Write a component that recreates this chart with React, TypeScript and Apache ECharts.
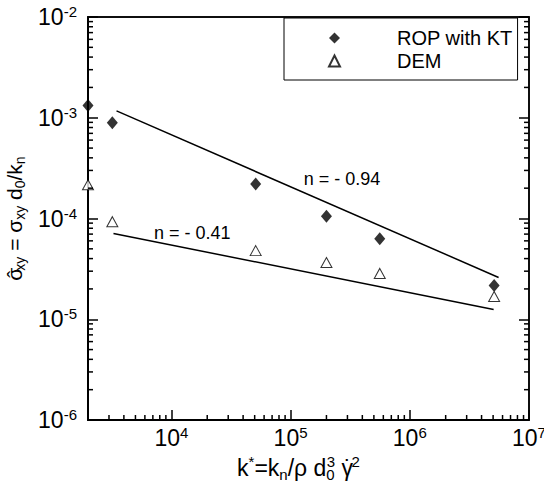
import React, { useEffect, useRef } from "react";
import * as echarts from "echarts";

// ---- data ----
const ropK = [2000, 3200, 51000, 200000, 560000, 5100000];
const ropSigma = [1.32e-3, 8.9e-4, 2.2e-4, 1.05e-4, 6.3e-5, 2.16e-5];
const demK = [2000, 3200, 51000, 200000, 560000, 5100000];
const demSigma = [2.16e-4, 9.3e-5, 4.8e-5, 3.66e-5, 2.85e-5, 1.68e-5];

const fitRopK = [3470, 5560000];
const fitRopSigma = [1.17e-3, 2.6e-5];
const fitDemK = [3270, 5050000];
const fitDemSigma = [7.1e-5, 1.25e-5];

const annotationText = ["n = - 0.94", "n = - 0.41"];
const annotationK = [270000, 15000];
const annotationSigma = [2.48e-4, 7.26e-5];

const xMin = 2000;
const xMax = 1e7;
const yMin = 1e-6;
const yMax = 1e-2;
const minorMantissas = [2, 3, 4, 5, 6, 7, 8, 9];
const xDecades = [1e3, 1e4, 1e5, 1e6];
const yDecades = [1e-6, 1e-5, 1e-4, 1e-3];

const FONT = "Liberation Sans, Arial, sans-serif";

const xMinor: number[] = [];
xDecades.forEach((d) => minorMantissas.forEach((m) => {
  const v = m * d;
  if (v > xMin * 1.0001 && v < xMax) xMinor.push(v);
}));
const yMinor: number[] = [];
yDecades.forEach((d) => minorMantissas.forEach((m) => yMinor.push(m * d)));

function powLabel(v: number) {
  const e = Math.round(Math.log10(v));
  const p = Math.pow(10, e);
  if (Math.abs(v - p) / p > 1e-6) return "";
  return `{a|10}{b|${e}}`;
}

const labelRich = {
  a: { fontSize: 23, fontFamily: FONT, color: "#000", lineHeight: 26 },
  b: { fontSize: 15, fontFamily: FONT, color: "#000", verticalAlign: "top", lineHeight: 15 },
};

function makeTitleRich(big: number, small: number) {
  return {
    t: { fontSize: big, fontFamily: FONT, color: "#000", lineHeight: big + 5 },
    sp: { fontSize: small, fontFamily: FONT, color: "#000", verticalAlign: "top", lineHeight: small },
    sb: { fontSize: small, fontFamily: FONT, color: "#000", verticalAlign: "bottom", lineHeight: small },
    sp3: { fontSize: small, fontFamily: FONT, color: "#000", verticalAlign: "top", lineHeight: small, padding: [0, 0, 0, -Math.round(small * 0.56)] },
    dot: { fontSize: big, fontFamily: FONT, color: "#000", lineHeight: big + 5, padding: [0, 0, 0, -Math.round(big * 0.38)] },
    hat: { fontSize: big, fontFamily: FONT, color: "#000", lineHeight: big + 5, padding: [0, 0, 0, -Math.round(big * 0.48)] },
  };
}

export default function App() {
  const ref = useRef<HTMLDivElement>(null);
  useEffect(() => {
    document.body.style.margin = "0";
    if (!ref.current) return;
    const chart = echarts.init(ref.current, null, { renderer: "svg" });
    const minorLen = 5;
    const tickColor = "#000";
    chart.setOption({
      animation: false,
      backgroundColor: "#fff",
      grid: {
        left: 88, top: 17, right: 15, bottom: 64, outerBoundsMode: "none",
        show: true, borderColor: "#000", borderWidth: 1.5, backgroundColor: "transparent",
      },
      legend: {
        data: ["ROP with KT", "DEM"],
        orient: "vertical",
        left: 284, top: 18,
        backgroundColor: "#fff",
        borderColor: "#000", borderWidth: 1, borderRadius: 0,
        padding: [10, 5, 9, 44],
        itemWidth: 11, itemHeight: 11, itemGap: 3,
        textStyle: { fontFamily: FONT, fontSize: 20, color: "#000", lineHeight: 20, padding: [0, 0, 0, 52] },
      },
      xAxis: [
        {
          type: "log", min: xMin, max: xMax,
          name: "{t|k}{sp|*}{t|=k}{sb|n}{t|/ρ d}{sb|0}{sp3|3}{t| γ}{dot|˙}{sp|2}",
          nameLocation: "middle", nameGap: 29,
          nameTextStyle: { rich: makeTitleRich(23, 15), padding: [0, 20, 0, 0] },
          axisLine: { show: true, onZero: false, lineStyle: { color: "#000", width: 2 } },
          axisTick: { show: true, inside: true, length: 10, lineStyle: { color: tickColor, width: 1.5 } },
          axisLabel: { show: true, formatter: powLabel, rich: labelRich, margin: 5, showMinLabel: true, showMaxLabel: true },
          splitLine: { show: false },
        },
        {
          type: "log", min: xMin, max: xMax, position: "top",
          axisLine: { show: true, onZero: false, lineStyle: { color: "#000", width: 1.5 } },
          axisTick: { show: false }, axisLabel: { show: false }, splitLine: { show: false },
        },
      ],
      yAxis: [
        {
          type: "log", min: yMin, max: yMax,
          name: "{t|σ}{hat|ˆ}{sb|xy}{t| = σ}{sb|xy}{t| d}{sb|0}{t|/k}{sb|n}",
          nameLocation: "middle", nameGap: 33, nameRotate: 90,
          nameTextStyle: { rich: makeTitleRich(21, 14) },
          axisLine: { show: true, onZero: false, lineStyle: { color: "#000", width: 2 } },
          axisTick: { show: true, inside: true, length: 10, lineStyle: { color: tickColor, width: 1.5 } },
          axisLabel: { show: true, formatter: powLabel, rich: labelRich, margin: 11 },
          splitLine: { show: false },
        },
        {
          type: "log", min: yMin, max: yMax, position: "right",
          axisLine: { show: true, onZero: false, lineStyle: { color: "#000", width: 1.5 } },
          axisTick: { show: true, inside: true, length: 10, lineStyle: { color: tickColor, width: 1.5 } },
          axisLabel: { show: false }, splitLine: { show: false },
        },
      ],
      series: [
        {
          type: "custom", clip: false, z: 10,
          data: xMinor.map((v) => [v, 1e-4]),
          renderItem: (params: any, api: any) => {
            const p = api.coord([api.value(0), api.value(1)]);
            const cs = params.coordSys;
            const yb = cs.y + cs.height;
            return {
              type: "line",
              shape: { x1: p[0], y1: yb, x2: p[0], y2: yb - minorLen },
              style: { stroke: tickColor, lineWidth: 1.5 },
            };
          },
        },
        {
          type: "custom", clip: false, z: 10,
          data: yMinor.map((v) => [1e4, v]),
          renderItem: (params: any, api: any) => {
            const p = api.coord([api.value(0), api.value(1)]);
            const cs = params.coordSys;
            const xl = cs.x;
            const xr = cs.x + cs.width;
            return {
              type: "group",
              children: [
                { type: "line", shape: { x1: xl, y1: p[1], x2: xl + minorLen, y2: p[1] }, style: { stroke: tickColor, lineWidth: 1.5 } },
                { type: "line", shape: { x1: xr, y1: p[1], x2: xr - minorLen, y2: p[1] }, style: { stroke: tickColor, lineWidth: 1.5 } },
              ],
            };
          },
        },
        {
          type: "line", silent: true, symbol: "none",
          data: fitRopK.map((k, i) => [k, fitRopSigma[i]]),
          lineStyle: { color: "#000", width: 1.5 },
        },
        {
          type: "line", silent: true, symbol: "none",
          data: fitDemK.map((k, i) => [k, fitDemSigma[i]]),
          lineStyle: { color: "#000", width: 1.5 },
        },
        {
          name: "ROP with KT", type: "scatter", clip: false,
          symbol: "diamond", symbolSize: [11, 13],
          itemStyle: { color: "#000" },
          data: ropK.map((k, i) => [k, ropSigma[i]]),
          z: 5,
        },
        {
          name: "DEM", type: "scatter", clip: false,
          symbol: "triangle", symbolSize: [11, 10],
          itemStyle: { color: "#fff", borderColor: "#000", borderWidth: 1 },
          data: demK.map((k, i) => [k, demSigma[i]]),
          z: 5,
        },
        {
          type: "scatter", silent: true, symbolSize: 1,
          itemStyle: { color: "transparent" },
          label: {
            show: true, position: "inside",
            formatter: (p: any) => annotationText[p.dataIndex],
            fontFamily: FONT, fontSize: 18, color: "#000", textBorderWidth: 0, opacity: 1,
          },
          data: annotationK.map((k, i) => [k, annotationSigma[i]]),
        },
      ],
    });
    return () => chart.dispose();
  }, []);
  return <div ref={ref} style={{ width: 544, height: 484 }} />;
}
